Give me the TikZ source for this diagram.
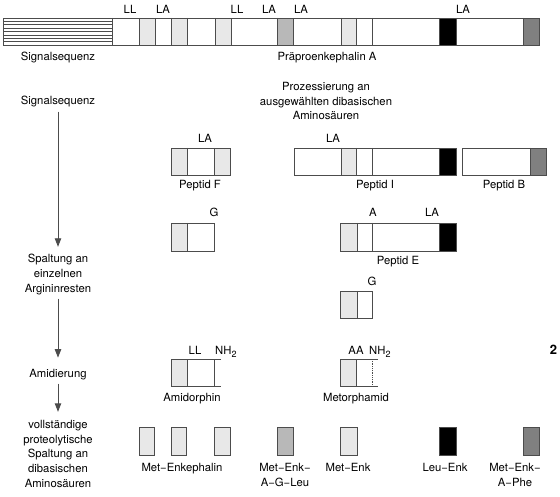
\documentclass[tikz,border=0pt]{standalone}
\usepackage{fontspec}
\setmainfont{TeX Gyre Heros}
\usetikzlibrary{arrows.meta}
\definecolor{lfill}{gray}{0.91}
\definecolor{mfill}{gray}{0.72}
\definecolor{dfill}{gray}{0.50}
\definecolor{edge}{gray}{0.30}
\tikzset{
  lbl/.style={inner sep=0pt, font=\fontsize{11.3}{14.8}\selectfont},
  lblb/.style={lbl, anchor=base},
  multi/.style={lbl, align=center, anchor=north},
  bx/.style={draw=edge, line width=0.9pt},
  dv/.style={draw=edge, line width=0.8pt},
  arr/.style={draw=edge, line width=0.9pt, -{Triangle[width=6.5pt,length=8.5pt]}},
}
\newcommand\nhtwo{NH\raisebox{-2.6pt}{\fontsize{9}{9}\selectfont 2}}
\begin{document}
\begin{tikzpicture}[x=1pt,y=-1pt]
\useasboundingbox (0,0) rectangle (560,497);

% ---------- top bar: Praeproenkephalin A ----------
\foreach \a/\b in {139/155,171/187,215/231,341/356} \fill[lfill] (\a,18) rectangle (\b,45);
\fill[mfill] (277,18) rectangle (293,45);
\fill[black] (439,18) rectangle (456,45);
\fill[dfill] (523,18) rectangle (539,45);
\foreach \k in {1,...,7} \draw[edge, line width=0.6pt] (3,18+3.375*\k) -- (112,18+3.375*\k);
\foreach \x in {112,139,155,171,187,215,231,277,293,341,356,372,439,456,523}
  \draw[dv] (\x,18) -- (\x,45);
\draw[bx] (3,18) rectangle (539,45);

\node[lblb] (ll1) at (130,14) {LL};
\node[lblb] (la1) at (163,14) {LA};
\node[lblb] (ll2) at (237,14) {LL};
\node[lblb] (la2) at (269,14) {LA};
\node[lblb] (la3) at (301,14) {LA};
\node[lblb] (la4) at (463,14) {LA};
\node[lblb] (sig1) at (58,61) {Signalsequenz};
\node[lblb] (ppa) at (327,61) {Präproenkephalin A};

% ---------- processing ----------
\node[lblb] (sig2) at (58,105) {Signalsequenz};
\node[multi] (proz) at (326,81.8) {Prozessierung an\\ausgewählten dibasischen\\Aminosäuren};

% Peptid F
\fill[lfill] (171,148) rectangle (187,175);
\fill[lfill] (214,148) rectangle (230,175);
\foreach \x in {187,214} \draw[dv] (\x,148) -- (\x,175);
\draw[bx] (171,148) rectangle (230,175);
\node[lblb] (laF) at (205,143) {LA};
\node[lblb] (pF) at (200,189) {Peptid F};

% Peptid I
\fill[lfill] (341,148) rectangle (356,175);
\fill[black] (439,148) rectangle (456,175);
\foreach \x in {341,356,372,439} \draw[dv] (\x,148) -- (\x,175);
\draw[bx] (294,148) rectangle (456,175);
\node[lblb] (laI) at (333,143) {LA};
\node[lblb] (pI) at (375,189) {Peptid I};

% Peptid B
\fill[dfill] (530,148) rectangle (546,175);
\draw[dv] (530,148) -- (530,175);
\draw[bx] (462,148) rectangle (546,175);
\node[lblb] (pB) at (504,189) {Peptid B};

% ---------- row 3 ----------
\fill[lfill] (171,223) rectangle (187,251);
\draw[dv] (187,223) -- (187,251);
\draw[bx] (171,223) rectangle (214,251);
\node[lblb] (g1) at (214,217) {G};

\fill[lfill] (340,223) rectangle (357,251);
\fill[black] (439,223) rectangle (456,251);
\foreach \x in {357,372,439} \draw[dv] (\x,223) -- (\x,251);
\draw[bx] (340,223) rectangle (456,251);
\node[lblb] (aE) at (373,217) {A};
\node[lblb] (laE) at (432,217) {LA};
\node[lblb] (pE) at (398,265) {Peptid E};

% ---------- row 4 ----------
\fill[lfill] (340,291) rectangle (357,318);
\draw[dv] (357,291) -- (357,318);
\draw[bx] (340,291) rectangle (372,318);
\node[lblb] (g2) at (372,286) {G};

% ---------- amidation ----------
\fill[lfill] (171,359) rectangle (187,386);
\draw[dv] (187,359) -- (187,386);
\draw[dv] (214,359) -- (214,386);
\draw[bx] (221,359) -- (171,359) -- (171,386) -- (221,386);
\node[lblb] (llA) at (195,355) {LL};
\node[lblb, anchor=base west] (nhA) at (215,355) {\nhtwo};
\node[lblb] (amid) at (192,401) {Amidorphin};

\fill[lfill] (340,359) rectangle (356,386);
\draw[dv] (356,359) -- (356,386);
\draw[dv, densely dotted] (372,359) -- (372,386);
\draw[bx] (378,359) -- (340,359) -- (340,386) -- (378,386);
\node[lblb] (aaM) at (356,355) {AA};
\node[lblb, anchor=base west] (nhM) at (369,355) {\nhtwo};
\node[lblb] (metor) at (356,401) {Metorphamid};

\node[lblb, font=\fontsize{13}{13}\selectfont\bfseries] (two) at (553.5,354) {2};

% ---------- final products ----------
\foreach \a/\b in {139/154,171/186,214/230,340/357} \draw[bx, fill=lfill] (\a,427) rectangle (\b,455);
\draw[bx, fill=mfill] (277,427) rectangle (293,455);
\draw[bx, fill=black] (439,427) rectangle (456,455);
\draw[bx, fill=dfill] (523,427) rectangle (539,455);
\node[lblb] (menk) at (182,471) {Met−Enkephalin};
\node[multi] (magl) at (285,462.8) {Met−Enk−\\A−G−Leu};
\node[lblb] (me) at (348,471) {Met−Enk};
\node[lblb] (le) at (445,471) {Leu−Enk};
\node[multi] (map) at (515,462.8) {Met−Enk−\\A−Phe};

% ---------- left column ----------
\node[multi] (spalt) at (58,253.8) {Spaltung an\\einzelnen\\Argininresten};
\node[lblb] (amidier) at (58,377) {Amidierung};
\node[multi] (voll) at (58,419.8) {vollständige\\proteolytische\\Spaltung an\\dibasischen\\Aminosäuren};

\draw[arr, shorten <=4pt, shorten >=7pt] (sig2.south) -- (sig2.south |- spalt.north);
\draw[arr, shorten <=4pt, shorten >=11pt] (spalt.south) -- (spalt.south |- amidier.north);
\draw[arr, shorten <=4pt, shorten >=8pt] (amidier.south) -- (amidier.south |- voll.north);
\end{tikzpicture}
\end{document}
